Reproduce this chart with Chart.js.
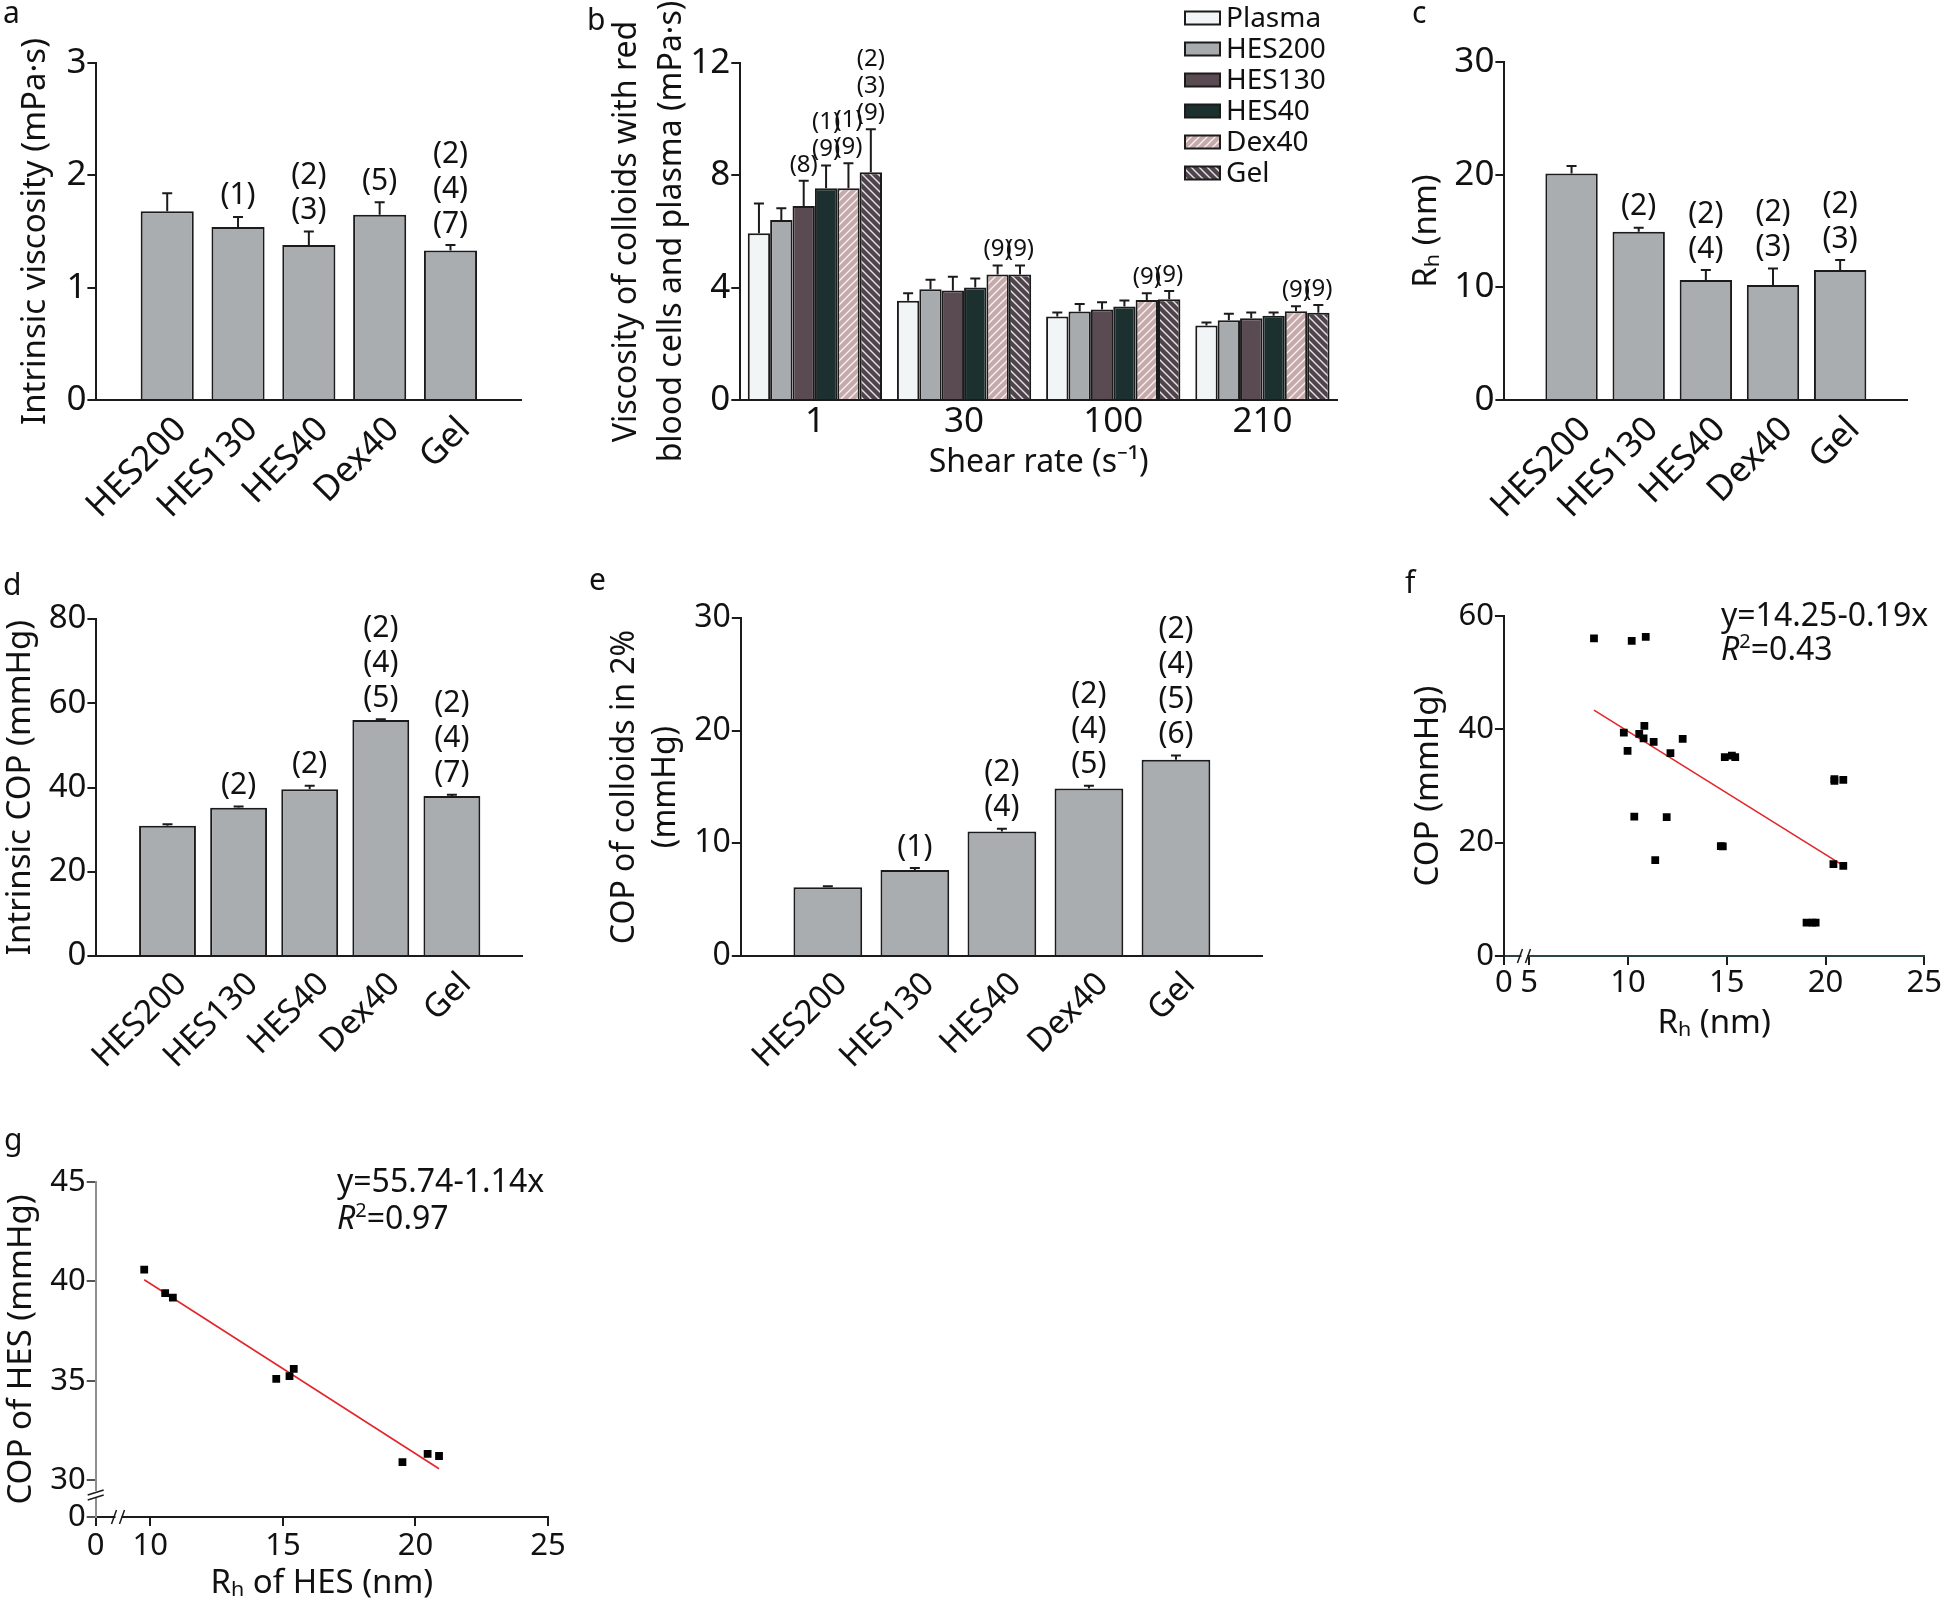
<!DOCTYPE html>
<html>
<head>
<meta charset="utf-8">
<script src="https://cdn.jsdelivr.net/npm/chart.js@4/dist/chart.umd.min.js"></script>
<style>
  html, body { margin: 0; padding: 0; background: #fff; }
  body { width: 1946px; height: 1609px; position: relative; overflow: hidden; }
  canvas { position: absolute; }
</style>
</head>
<body>
<canvas id="pa" width="560" height="540" style="left:0px;top:0px"></canvas>
<canvas id="pb" width="790" height="540" style="left:560px;top:0px"></canvas>
<canvas id="pc" width="586" height="540" style="left:1360px;top:0px"></canvas>
<canvas id="pd" width="560" height="540" style="left:0px;top:540px"></canvas>
<canvas id="pe" width="740" height="540" style="left:560px;top:540px"></canvas>
<canvas id="pf" width="586" height="540" style="left:1360px;top:540px"></canvas>
<canvas id="pg" width="600" height="509" style="left:0px;top:1100px"></canvas>
<script>
// ---- data ----
const colloids = ['HES200', 'HES130', 'HES40', 'Dex40', 'Gel'];

// a: intrinsic viscosity (mPa·s)
const viscMean = [1.68, 1.54, 1.38, 1.65, 1.33];
const viscErr = [0.16, 0.09, 0.12, 0.11, 0.05];
const viscSig = ['', '(1)', '(2)\n(3)', '(5)', '(2)\n(4)\n(7)'];

// b: viscosity with red blood cells, by shear rate
const shearRates = ['1', '30', '100', '210'];
const plasmaVisc = [5.94, 3.53, 2.97, 2.65];
const plasmaErr = [1.06, 0.27, 0.15, 0.11];
const hes200Visc = [6.41, 3.94, 3.15, 2.84];
const hes200Err = [0.42, 0.34, 0.27, 0.23];
const hes130Visc = [6.91, 3.90, 3.22, 2.91];
const hes130Err = [0.90, 0.49, 0.26, 0.21];
const hes40Visc = [7.54, 4.01, 3.33, 3.00];
const hes40Err = [0.81, 0.32, 0.21, 0.12];
const dex40Visc = [7.54, 4.47, 3.56, 3.16];
const dex40Err = [0.89, 0.32, 0.24, 0.18];
const gelVisc = [8.11, 4.47, 3.59, 3.11];
const gelErr = [1.53, 0.32, 0.29, 0.27];
const hes130Sig = ['(8)', '', '', ''];
const hes40Sig = ['(1)\n(9)', '', '', ''];
const dex40Sig = ['(1)\n(9)', '(9)', '(9)', '(9)'];
const gelSig = ['(2)\n(3)\n(9)', '(9)', '(9)', '(9)'];

// c: hydrodynamic radius (nm)
const rhMean = [20.1, 14.93, 10.64, 10.2, 11.53];
const rhErr = [0.68, 0.35, 0.89, 1.48, 0.89];
const rhSig = ['', '(2)', '(2)\n(4)', '(2)\n(3)', '(2)\n(3)'];

// d: intrinsic COP (mmHg)
const copMean = [30.9, 35.2, 39.6, 56.0, 38.0];
const copErr = [0.4, 0.3, 0.8, 0.2, 0.3];
const copSig = ['', '(2)', '(2)', '(2)\n(4)\n(5)', '(2)\n(4)\n(7)'];

// e: COP of colloids in 2% (mmHg)
const cop2Mean = [6.1, 7.64, 11.05, 14.87, 17.41];
const cop2Err = [0.1, 0.16, 0.25, 0.23, 0.39];
const cop2Sig = ['', '(1)', '(2)\n(4)', '(2)\n(4)\n(5)', '(2)\n(4)\n(5)\n(6)'];

// f: COP vs Rh, all colloids
const fRh = [8.28, 10.19, 10.9, 9.79, 9.98, 10.57, 10.83, 10.79, 11.3, 12.15, 12.77, 10.32, 11.96, 11.38,
             14.7, 14.8, 14.9, 15.26, 15.43, 19.04, 19.34, 19.5, 20.45, 20.45, 20.9, 20.4, 20.9];
const fCop = [56.06, 55.6, 56.3, 39.4, 36.2, 39.2, 40.6, 38.4, 37.8, 35.8, 38.3, 24.6, 24.5, 16.9,
              19.4, 19.35, 35.1, 35.35, 35.1, 5.9, 5.9, 5.9, 31.2, 30.9, 31.1, 16.2, 15.9];
const fFitX = [8.28, 20.92];
const fFitY = [43.4, 15.9];

// g: COP vs Rh, HES only
const gRh = [9.77, 10.56, 10.85, 14.75, 15.25, 15.41, 19.51, 20.46, 20.89];
const gCop = [40.59, 39.41, 39.18, 35.09, 35.23, 35.59, 30.9, 31.32, 31.21];
const gFitX = [9.77, 20.89];
const gFitY = [40.08, 30.57];

// ---- look ----
const FONT = "'Noto Sans', 'DejaVu Sans', sans-serif";
const INK = '#1b1b1b';
Chart.defaults.font.family = FONT;
Chart.defaults.color = '#111';

function stripes(bg, dir) {
  const c = document.createElement('canvas');
  c.width = c.height = 8;
  const x = c.getContext('2d');
  x.fillStyle = bg;
  x.fillRect(0, 0, 8, 8);
  x.strokeStyle = 'rgba(255,255,255,0.85)';
  x.lineWidth = 1.4;
  x.beginPath();
  if (dir === '/') {
    x.moveTo(-1, 9); x.lineTo(9, -1);
    x.moveTo(-1, 1); x.lineTo(1, -1);
    x.moveTo(7, 9); x.lineTo(9, 7);
  } else {
    x.moveTo(-1, -1); x.lineTo(9, 9);
    x.moveTo(-1, 7); x.lineTo(1, 9);
    x.moveTo(7, -1); x.lineTo(9, 1);
  }
  x.stroke();
  return x.createPattern(c, 'repeat');
}

// error bars + significance marks above them
const errorBars = {
  id: 'errorBars',
  afterDatasetsDraw(chart, args, o) {
    const ctx = chart.ctx, ys = chart.scales.y;
    ctx.save();
    ctx.strokeStyle = INK;
    ctx.lineWidth = 2;
    ctx.fillStyle = '#111';
    ctx.font = o.font + 'px ' + FONT;
    ctx.textAlign = 'center';
    ctx.textBaseline = 'bottom';
    chart.data.datasets.forEach((ds, di) => {
      if (!ds.errors) return;
      chart.getDatasetMeta(di).data.forEach((bar, i) => {
        const v = ds.data[i];
        if (v == null) return;
        const top = ys.getPixelForValue(v + ds.errors[i]);
        ctx.beginPath();
        ctx.moveTo(bar.x, bar.y);
        ctx.lineTo(bar.x, top);
        ctx.moveTo(bar.x - o.cap, top);
        ctx.lineTo(bar.x + o.cap, top);
        ctx.stroke();
        const s = ds.sig && ds.sig[i];
        if (s) {
          const lines = s.split('\n');
          lines.forEach((t, k) => {
            ctx.fillText(t, bar.x, top - o.gap - (lines.length - 1 - k) * o.lh);
          });
        }
      });
    });
    ctx.restore();
  }
};

const panelLetter = {
  id: 'panelLetter',
  afterDraw(chart, args, o) {
    if (!o.text) return;
    const ctx = chart.ctx;
    ctx.save();
    ctx.font = '30px ' + FONT;
    ctx.fillStyle = '#111';
    ctx.textAlign = 'left';
    ctx.textBaseline = 'alphabetic';
    ctx.fillText(o.text, o.x, o.y);
    ctx.restore();
  }
};

const boxLegend = {
  id: 'boxLegend',
  afterDraw(chart, args, o) {
    const ctx = chart.ctx;
    ctx.save();
    ctx.font = o.font + 'px ' + FONT;
    ctx.textAlign = 'left';
    ctx.textBaseline = 'middle';
    chart.data.datasets.forEach((ds, i) => {
      const y = o.y + i * o.step;
      ctx.fillStyle = ds.backgroundColor;
      ctx.fillRect(o.x, y - o.h / 2, o.w, o.h);
      ctx.strokeStyle = INK;
      ctx.lineWidth = 2;
      ctx.strokeRect(o.x, y - o.h / 2, o.w, o.h);
      ctx.fillStyle = '#111';
      ctx.fillText(ds.label, o.x + o.w + 6, y + 1);
    });
    ctx.restore();
  }
};

const fitText = {
  id: 'fitText',
  afterDraw(chart, args, o) {
    const ctx = chart.ctx;
    ctx.save();
    ctx.fillStyle = '#111';
    ctx.textAlign = 'left';
    ctx.textBaseline = 'middle';
    ctx.font = '32px ' + FONT;
    ctx.fillText(o.eq, o.x, o.y1);
    ctx.font = 'italic 32px ' + FONT;
    ctx.fillText('R', o.x, o.y2);
    let x = o.x + ctx.measureText('R').width;
    ctx.font = '20px ' + FONT;
    ctx.fillText('2', x, o.y2 - 9);
    x += ctx.measureText('2').width;
    ctx.font = '32px ' + FONT;
    ctx.fillText('=' + o.r2, x, o.y2);
    ctx.restore();
  }
};

const axisBreaks = {
  id: 'axisBreaks',
  afterDraw(chart, args, o) {
    const ctx = chart.ctx, xs = chart.scales.x, ys = chart.scales.y;
    ctx.save();
    ctx.strokeStyle = INK;
    ctx.lineWidth = 1.5;
    (o.x || []).forEach(v => {
      const px = xs.getPixelForValue(v), py = ys.bottom;
      ctx.fillStyle = '#fff';
      ctx.fillRect(px - 3, py - 2, 6, 4);
      ctx.beginPath();
      ctx.moveTo(px - 7, py + 7); ctx.lineTo(px - 2, py - 7);
      ctx.moveTo(px + 1, py + 7); ctx.lineTo(px + 6, py - 7);
      ctx.stroke();
    });
    (o.y || []).forEach(v => {
      const px = xs.left, py = ys.getPixelForValue(v);
      ctx.fillStyle = '#fff';
      ctx.fillRect(px - 2, py - 3, 4, 6);
      ctx.beginPath();
      ctx.moveTo(px - 8, py + 1); ctx.lineTo(px + 8, py - 4);
      ctx.moveTo(px - 8, py + 6); ctx.lineTo(px + 8, py + 1);
      ctx.stroke();
    });
    ctx.restore();
  }
};

function yAxis(o) {
  const ax = {
    min: o.min, max: o.max,
    border: { display: true, color: o.borderColor || INK, width: 2 },
    grid: { display: true, drawOnChartArea: false, tickLength: 9, color: o.tickColor || INK, lineWidth: 2 },
    ticks: { stepSize: o.step, font: { size: o.tickSize }, color: '#111', padding: 1, autoSkip: false },
    title: { display: true, text: o.title, color: '#111',
             font: { size: o.titleSize || 33, lineHeight: o.lh || 1.2 },
             padding: { top: o.titlePad, bottom: 0 } },
    afterFit(s) { s.width = o.width; }
  };
  if (o.ticksAt) {
    ax.afterBuildTicks = s => { s.ticks = o.ticksAt.map(v => ({ value: v })); };
    ax.ticks.callback = v => (v === o.min ? '0' : v);
  }
  return ax;
}

function barPanel(id, o) {
  new Chart(document.getElementById(id), {
    type: 'bar',
    data: {
      labels: ['', ...colloids, ''],
      datasets: [{
        data: [null, ...o.mean, null],
        errors: [null, ...o.err, null],
        sig: ['', ...o.sig, ''],
        backgroundColor: '#a9adb0',
        borderColor: INK,
        borderWidth: 2,
        barPercentage: o.barPct,
        categoryPercentage: 1
      }]
    },
    options: {
      responsive: false, animation: false, devicePixelRatio: 1,
      layout: { padding: { top: o.top, right: o.right, left: 0, bottom: 0 } },
      plugins: {
        legend: { display: false }, tooltip: { enabled: false },
        errorBars: { font: 30, lh: 35, gap: 6, cap: 5 },
        panelLetter: o.letter
      },
      scales: {
        x: {
          offset: false,
          border: { display: true, color: INK, width: 2 },
          grid: { display: false, drawTicks: false },
          ticks: { autoSkip: false, maxRotation: 45, minRotation: 45, padding: 9, labelOffset: 14,
                   font: { size: o.xTickSize }, color: '#111' },
          afterFit(s) { s.height = o.xHeight; }
        },
        y: yAxis(o.y)
      }
    },
    plugins: [errorBars, panelLetter]
  });
}

// ---- a ----
barPanel('pa', {
  mean: viscMean, err: viscErr, sig: viscSig, barPct: 0.75,
  top: 63, right: 12, xHeight: 140, xTickSize: 35,
  letter: { text: 'a', x: 3, y: 23 },
  y: { min: 0, max: 3, step: 1, tickSize: 35, width: 96.4, titlePad: 16,
       title: 'Intrinsic viscosity (mPa·s)' }
});

// ---- b ----
const dexFill = stripes('#c6a9aa', '/');
const gelFill = stripes('#4f444b', '\\');
function fluidSet(label, data, errors, sig, fill) {
  return { label, data, errors, sig, backgroundColor: fill, borderColor: INK, borderWidth: 2,
           barPercentage: 1, categoryPercentage: 0.9 };
}
new Chart(document.getElementById('pb'), {
  type: 'bar',
  data: {
    labels: shearRates,
    datasets: [
      fluidSet('Plasma', plasmaVisc, plasmaErr, null, '#f2f5f6'),
      fluidSet('HES200', hes200Visc, hes200Err, null, '#a8abae'),
      fluidSet('HES130', hes130Visc, hes130Err, hes130Sig, '#5a4b52'),
      fluidSet('HES40', hes40Visc, hes40Err, hes40Sig, '#1b302f'),
      fluidSet('Dex40', dex40Visc, dex40Err, dex40Sig, dexFill),
      fluidSet('Gel', gelVisc, gelErr, gelSig, gelFill)
    ]
  },
  options: {
    responsive: false, animation: false, devicePixelRatio: 1,
    layout: { padding: { top: 63, right: 13, left: 0, bottom: 0 } },
    plugins: {
      legend: { display: false }, tooltip: { enabled: false },
      errorBars: { font: 24, lh: 27, gap: 4, cap: 5 },
      panelLetter: { text: 'b', x: 27, y: 30 },
      boxLegend: { x: 625, y: 18, step: 31, w: 35, h: 13, font: 28 }
    },
    scales: {
      x: {
        border: { display: true, color: INK, width: 2 },
        grid: { display: false, drawTicks: false },
        ticks: { maxRotation: 0, padding: 1, font: { size: 35 }, color: '#111' },
        title: { display: true, text: 'Shear rate (s⁻¹)', color: '#111',
                 font: { size: 32, lineHeight: 1.2 }, padding: { top: 0, bottom: 58 } },
        afterFit(s) { s.height = 140; }
      },
      y: yAxis({ min: 0, max: 12, step: 4, tickSize: 35, width: 180.3, titlePad: 44.5,
                 titleSize: 32, lh: 1.4,
                 title: ['Viscosity of colloids with red', 'blood cells and plasma (mPa·s)'] })
    }
  },
  plugins: [errorBars, panelLetter, boxLegend]
});

// ---- c ----
barPanel('pc', {
  mean: rhMean, err: rhErr, sig: rhSig, barPct: 0.78,
  top: 62, right: 25.2, xHeight: 140, xTickSize: 35,
  letter: { text: 'c', x: 52, y: 23 },
  y: { min: 0, max: 30, step: 10, tickSize: 35, width: 144.4, titlePad: 47,
       title: 'Rₕ (nm)' }
});

// ---- d ----
barPanel('pd', {
  mean: copMean, err: copErr, sig: copSig, barPct: 0.8,
  top: 79, right: 7, xHeight: 124, xTickSize: 33,
  letter: { text: 'd', x: 3, y: 55 },
  y: { min: 0, max: 80, step: 20, tickSize: 33, width: 96.4, titlePad: 1,
       title: 'Intrinsic COP (mmHg)' }
});

// ---- e ----
barPanel('pe', {
  mean: cop2Mean, err: cop2Err, sig: cop2Sig, barPct: 0.79,
  top: 78, right: 27, xHeight: 124, xTickSize: 33,
  letter: { text: 'e', x: 29, y: 50 },
  y: { min: 0, max: 30, step: 10, tickSize: 32, width: 180.8, titlePad: 44.5,
       titleSize: 32, lh: 1.28, title: ['COP of colloids in 2%', '(mmHg)'] }
});

// ---- scatter panels ----
function scatterPanel(id, o) {
  new Chart(document.getElementById(id), {
    type: 'scatter',
    data: {
      datasets: [
        { data: o.xs.map((x, i) => ({ x, y: o.ys[i] })), pointStyle: 'rect', pointRadius: 5.5,
          backgroundColor: '#000', borderWidth: 0 },
        { type: 'line', data: o.fitX.map((x, i) => ({ x, y: o.fitY[i] })), borderColor: '#e3262b',
          borderWidth: 1.6, pointRadius: 0, fill: false }
      ]
    },
    options: {
      responsive: false, animation: false, devicePixelRatio: 1,
      layout: { padding: { top: o.top, right: o.right, left: 0, bottom: 0 } },
      plugins: {
        legend: { display: false }, tooltip: { enabled: false },
        panelLetter: o.letter, fitText: o.fit, axisBreaks: o.breaks
      },
      scales: {
        x: {
          type: 'linear', min: o.x.min, max: o.x.max,
          border: { display: true, color: o.x.borderColor || INK, width: 2 },
          grid: { display: true, drawOnChartArea: false, tickLength: 9, color: INK, lineWidth: 2 },
          ticks: { autoSkip: false, maxRotation: 0, padding: o.x.pad, font: { size: 31 }, color: '#111',
                   callback: v => (v === o.x.min ? '0' : v) },
          afterBuildTicks: s => { s.ticks = o.x.ticksAt.map(v => ({ value: v })); },
          title: { display: true, text: o.x.title, color: '#111', font: { size: 33, lineHeight: 1.2 },
                   padding: { top: 0, bottom: o.x.titlePad } },
          afterFit(s) { s.height = o.x.height; }
        },
        y: yAxis(o.y)
      }
    },
    plugins: [panelLetter, fitText, axisBreaks]
  });
}

scatterPanel('pf', {
  xs: fRh, ys: fCop, fitX: fFitX, fitY: fFitY, top: 76, right: 21.7,
  letter: { text: 'f', x: 45, y: 53 },
  fit: { eq: 'y=14.25-0.19x', r2: '0.43', x: 361, y1: 77, y2: 111 },
  breaks: { x: [4.76] },
  x: { min: 3.72, max: 25, ticksAt: [3.72, 5, 10, 15, 20, 25], pad: 0, height: 124, titlePad: 37,
       title: 'Rₕ (nm)', borderColor: '#2b4446' },
  y: { min: 0, max: 60, step: 20, tickSize: 31, width: 143.9, titlePad: 49, title: 'COP (mmHg)' }
});

scatterPanel('pg', {
  xs: gRh, ys: gCop, fitX: gFitX, fitY: gFitY, top: 82, right: 52,
  letter: { text: 'g', x: 4, y: 50 },
  fit: { eq: 'y=55.74-1.14x', r2: '0.97', x: 337, y1: 83, y2: 120 },
  breaks: { x: [8.8], y: [29.3] },
  x: { min: 7.94, max: 25, ticksAt: [7.94, 10, 15, 20, 25], pad: 2, height: 92, titlePad: 6,
       title: 'Rₕ of HES (nm)' },
  y: { min: 28.14, max: 45, ticksAt: [28.14, 30, 35, 40, 45], tickSize: 31, width: 95.7, titlePad: 2,
       title: 'COP of HES (mmHg)', borderColor: '#8c9092', tickColor: '#555' }
});
</script>
</body>
</html>
